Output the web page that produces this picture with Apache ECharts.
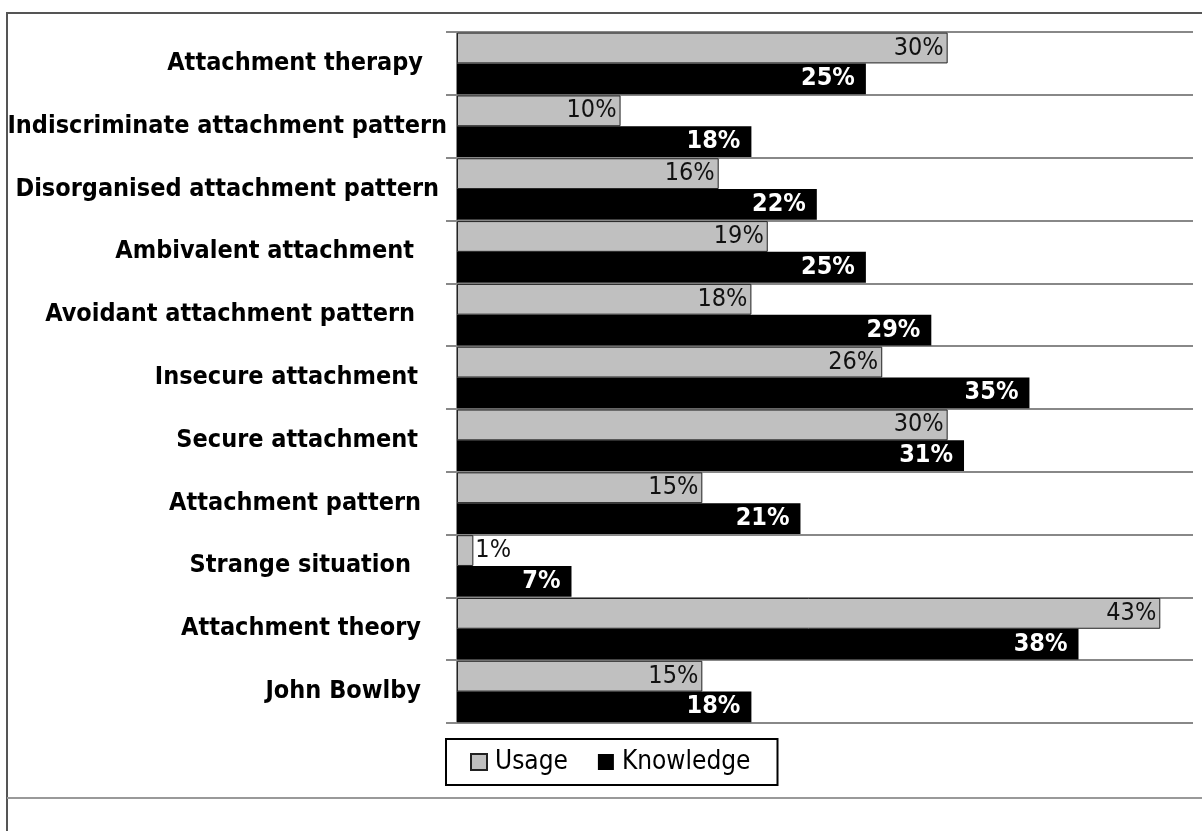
<!DOCTYPE html>
<html>
<head>
<meta charset="utf-8">
<script src="https://cdn.jsdelivr.net/npm/echarts@6/dist/echarts.min.js"></script>
<style>
  html, body { margin: 0; padding: 0; background: #fff; }
  #chart { width: 1202px; height: 831px; }
</style>
</head>
<body>
<div id="chart"></div>
<script>
// Survey terms, listed top to bottom
const categories = [
  'Attachment therapy',
  'Indiscriminate attachment pattern',
  'Disorganised attachment pattern',
  'Ambivalent attachment',
  'Avoidant attachment pattern',
  'Insecure attachment',
  'Secure attachment',
  'Attachment pattern',
  'Strange situation',
  'Attachment theory',
  'John Bowlby'
];
// Share of respondents (%)
const usage     = [30, 10, 16, 19, 18, 26, 30, 15, 1, 43, 15];
const knowledge = [25, 18, 22, 25, 29, 35, 31, 21, 7, 38, 18];
const seriesNames = ['Usage', 'Knowledge'];

// extra right padding for individual category labels
const labelPad = {
  'Attachment therapy': 24,
  'Indiscriminate attachment pattern': 0,
  'Disorganised attachment pattern': 8,
  'Ambivalent attachment': 33,
  'Avoidant attachment pattern': 32,
  'Insecure attachment': 29,
  'Secure attachment': 29,
  'Attachment pattern': 26,
  'Strange situation': 36,
  'Attachment theory': 26,
  'John Bowlby': 26
};

const FONT = '"Liberation Sans Narrow", "DejaVu Sans Condensed", "Arial Narrow", sans-serif';

// ECharts draws category axes bottom-up, so reverse for top-down order
const cats = categories.slice().reverse();
const u = usage.slice().reverse();
const k = knowledge.slice().reverse();

// bars too short to hold their label get it just outside the end
const usageData = u.map(v => v < 5
  ? { value: v, label: { position: 'right', distance: 2 } }
  : v);

const chart = echarts.init(document.getElementById('chart'));
chart.setOption({
  animation: false,
  textStyle: { fontFamily: FONT },
  graphic: [
    { type: 'rect', shape: { x: 7, y: 13, width: 1200, height: 830 },
      style: { fill: 'none', stroke: '#555', lineWidth: 2 }, silent: true, z: -1 },
    { type: 'line', shape: { x1: 7, y1: 798, x2: 1202, y2: 798 },
      style: { stroke: '#999', lineWidth: 2 }, silent: true }
  ],
  grid: { left: 457, right: 9, top: 32, bottom: 108, containLabel: false },
  xAxis: {
    type: 'value', min: 0, max: 45, show: false,
    splitLine: { show: false }
  },
  yAxis: {
    type: 'category',
    data: cats.map(c => ({ value: c, textStyle: { padding: [0, labelPad[c], 0, 0] } })),
    axisLine: { show: true, lineStyle: { color: '#888', width: 2 } },
    axisTick: { show: true, length: 11, lineStyle: { color: '#888', width: 2 } },
    splitLine: { show: true, lineStyle: { color: '#888', width: 2 } },
    axisLabel: {
      margin: 10, color: '#000', fontWeight: 'bold', fontSize: 25, fontFamily: FONT
    }
  },
  legend: {
    left: 446, top: 739,
    data: seriesNames,
    icon: 'rect',
    itemWidth: 16, itemHeight: 16, itemGap: 30,
    padding: [10, 27, 10, 24],
    borderColor: '#000', borderWidth: 2,
    textStyle: { fontSize: 26, color: '#000', fontFamily: FONT, padding: [0, 0, 0, 3] }
  },
  series: [
    {
      name: seriesNames[0], type: 'bar', data: usageData,
      barGap: '0%', barCategoryGap: '2%',
      itemStyle: { color: '#c0c0c0', borderColor: '#222', borderWidth: 1 },
      label: {
        show: true, position: 'insideRight', distance: 4,
        formatter: p => p.value + '%',
        color: '#111', fontSize: 25, fontFamily: FONT
      }
    },
    {
      name: seriesNames[1], type: 'bar', data: k,
      itemStyle: { color: '#000', borderColor: '#000', borderWidth: 0 },
      label: {
        show: true, position: 'insideRight', distance: 11,
        formatter: p => p.value + '%',
        color: '#fff', fontWeight: 'bold', fontSize: 25, fontFamily: FONT
      }
    }
  ]
});
</script>
</body>
</html>
